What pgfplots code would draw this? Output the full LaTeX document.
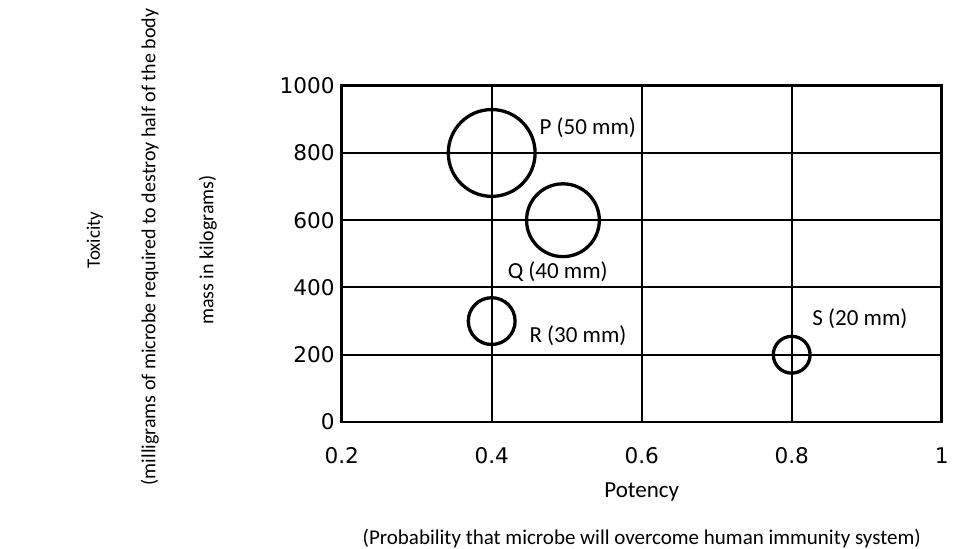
\documentclass[border=0pt]{standalone}
\usepackage{fontspec}
\setmainfont{Carlito}
\newfontfamily\dejavu{DejaVu Sans}
\usepackage{pgfplots}
\pgfplotsset{compat=1.18}
\begin{document}
\begin{tikzpicture}
\useasboundingbox (-170.85pt,-63.5pt) rectangle (308.15pt,211pt);
\begin{axis}[
  at={(0pt,0pt)}, anchor=south west,
  scale only axis, width=300pt, height=168.15pt,
  xmin=0.2, xmax=1, ymin=0, ymax=1000,
  xtick={0.2,0.4,0.6,0.8,1}, xticklabels={0.2,0.4,0.6,0.8,1},
  ytick={0,200,400,600,800,1000}, yticklabels={0,200,400,600,800,1000},
  major tick length=0pt,
  grid=major, major grid style={black, line width=1pt},
  axis line style={black, line width=1.3pt},
  tick label style={font=\dejavu\fontsize{10.8}{12}\selectfont, inner sep=0pt},
  xticklabel style={anchor=north, yshift=-12.5pt},
  yticklabel style={anchor=east, xshift=-3.3pt},
  clip=false,
]
\addplot[only marks, mark=o, scatter,
  scatter/use mapped color={draw=black, fill=none},
  mark options={line width=1.65pt},
  visualization depends on={\thisrow{r}\as\rad},
  scatter/@pre marker code/.append style={/tikz/mark size=\rad}]
  table {
x y r
0.4 800 21.7
0.495 600 18.2
0.4 300 11.7
0.8 200 9.2
};
\node[font=\fontsize{11.5}{13}\selectfont] at (axis cs:0.528,874) {P (50 mm)};
\node[font=\fontsize{11.5}{13}\selectfont] at (axis cs:0.488,446) {Q (40 mm)};
\node[font=\fontsize{11.5}{13}\selectfont] at (axis cs:0.515,256) {R (30 mm)};
\node[font=\fontsize{11.5}{13}\selectfont] at (axis cs:0.891,306) {S (20 mm)};
\end{axis}
\node[rotate=90, font=\fontsize{9.5}{12}\selectfont] at (-123.4pt,91pt) {Toxicity};
\node[rotate=90, font=\fontsize{10}{12}\selectfont] at (-95.9pt,87.5pt) {(milligrams of microbe required to destroy half of the body};
\node[rotate=90, font=\fontsize{10}{12}\selectfont] at (-66.9pt,86pt) {mass in kilograms)};
\node[font=\fontsize{11.5}{13}\selectfont] at (150pt,-35pt) {Potency};
\node[font=\fontsize{10.5}{12}\selectfont] at (150pt,-58.5pt) {(Probability that microbe will overcome human immunity system)};
\end{tikzpicture}
\end{document}
